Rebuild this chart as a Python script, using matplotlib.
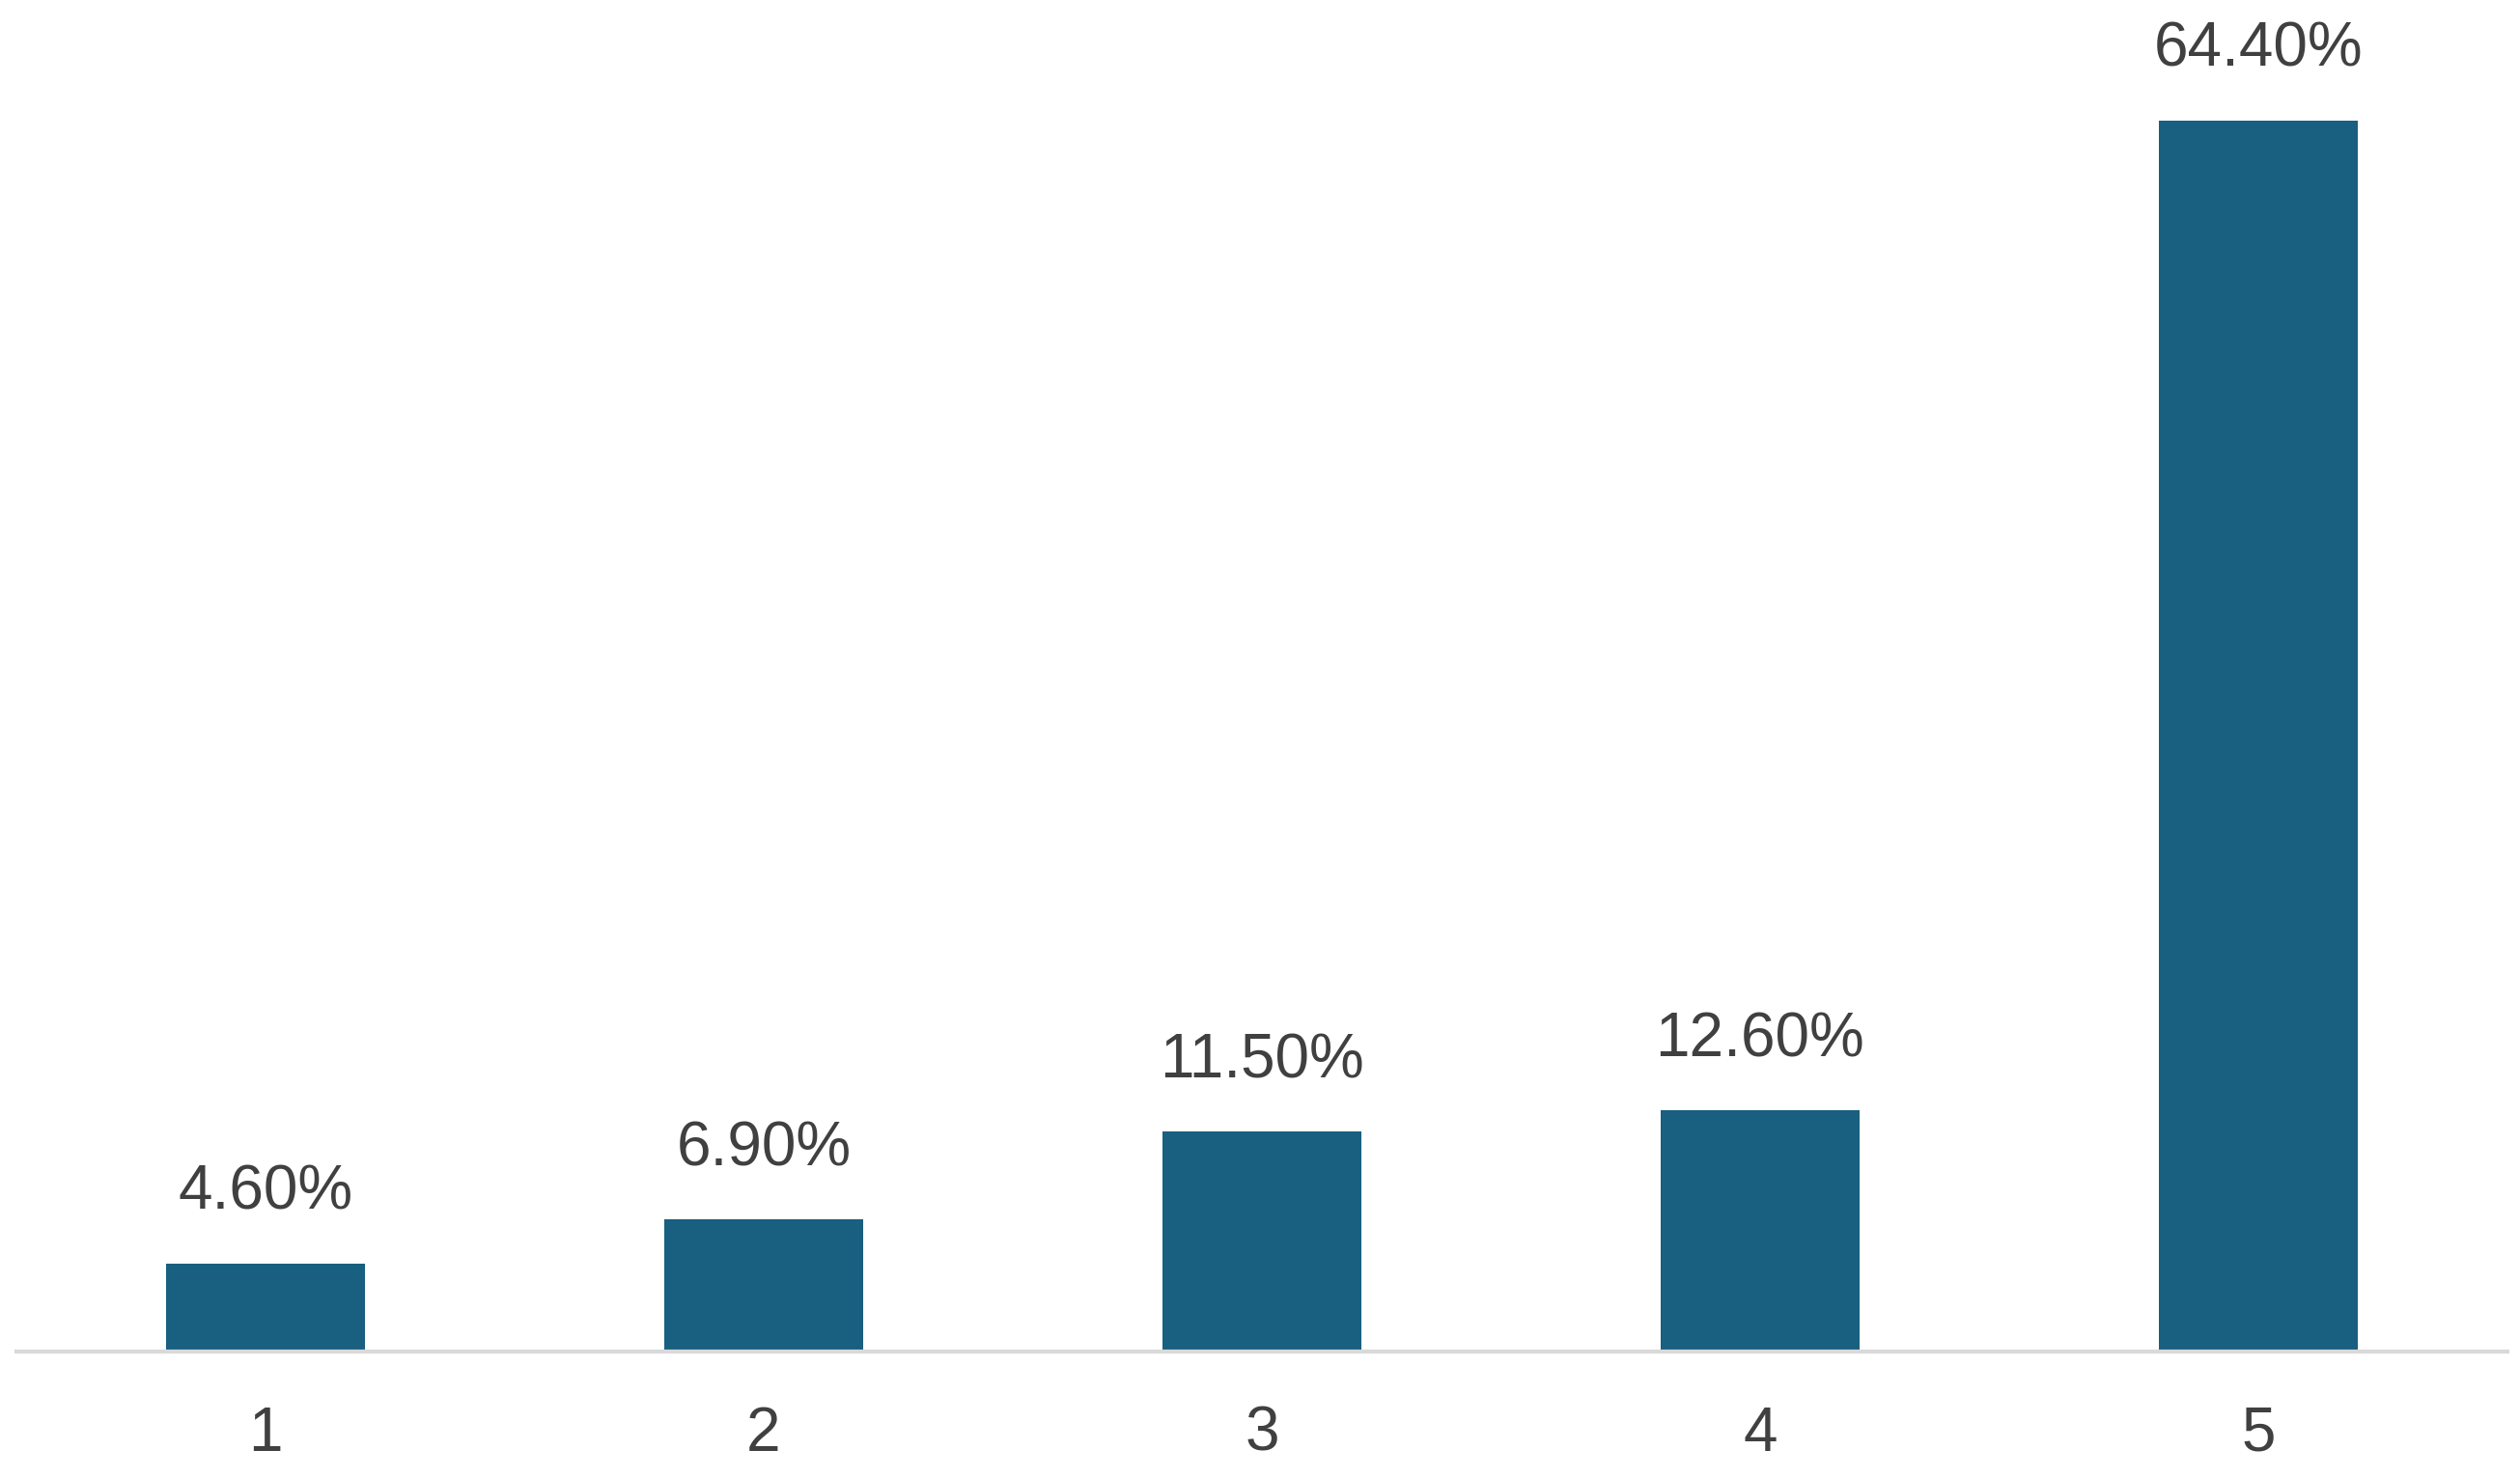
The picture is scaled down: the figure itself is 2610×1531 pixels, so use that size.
import matplotlib
matplotlib.use('Agg')
import matplotlib.pyplot as plt

categories = ['1', '2', '3', '4', '5']
shares = [4.6, 6.9, 11.5, 12.6, 64.4]
value_labels = ['4.60%', '6.90%', '11.50%', '12.60%', '64.40%']

bar_color = '#185F80'
text_color = '#404040'

plt.rcParams['font.family'] = ['Liberation Sans', 'DejaVu Sans']

fig = plt.figure(figsize=(26.10, 15.31), dpi=100)
ax = fig.add_axes([0.0065, 0.0856, 0.9885, 0.9144])

x = range(len(categories))
bars = ax.bar(x, shares, width=0.4, color=bar_color)

for rect, label in zip(bars, value_labels):
	ax.annotate(label, (rect.get_x() + rect.get_width() / 2, rect.get_height()),
				xytext=(0, 31), textcoords='offset points',
				ha='center', va='bottom', fontsize=46, color=text_color)

ax.set_xlim(-0.5, 4.5)
ax.set_ylim(0, 70.7)
ax.set_xticks(list(x))
ax.set_xticklabels(categories, fontsize=46, color=text_color)
ax.tick_params(axis='x', length=0, pad=40)
ax.set_yticks([])

for side in ['top', 'right', 'left']:
	ax.spines[side].set_visible(False)
ax.spines['bottom'].set_color('#D9D9D9')
ax.spines['bottom'].set_linewidth(3)

fig.savefig('out.png', dpi=100, facecolor='white')
